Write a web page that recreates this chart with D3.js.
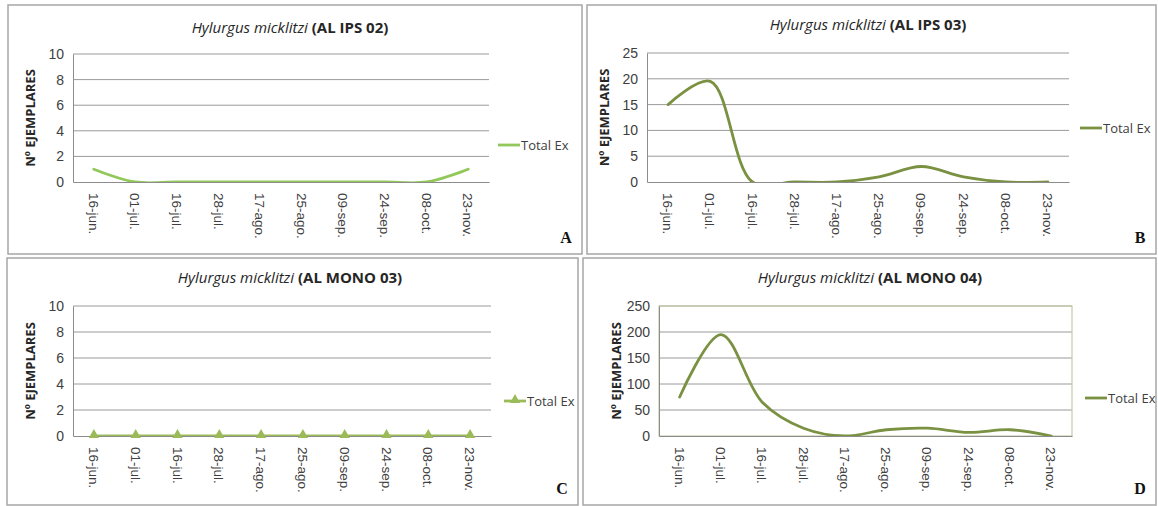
<!DOCTYPE html>
<html>
<head>
<meta charset="utf-8">
<script src="https://cdn.jsdelivr.net/npm/d3@7"></script>
<style>
  body { margin: 0; background: #fff; }
  svg { display: block; font-family: "Open Sans", "Liberation Sans", sans-serif; }
</style>
</head>
<body>
<svg id="chart" width="1158" height="506"></svg>
<script>
// Sampling dates (shared by all four panels)
const categories = ['16-jun.', '01-jul.', '16-jul.', '28-jul.', '17-ago.', '25-ago.', '09-sep.', '24-sep.', '08-oct.', '23-nov.'];

// Counts per trap
const valuesA = [1, 0, 0, 0, 0, 0, 0, 0, 0, 1];
const valuesB = [15, 19.5, 0, 0, 0, 1, 3, 1, 0, 0];
const valuesC = [0, 0, 0, 0, 0, 0, 0, 0, 0, 0];
const valuesD = [75, 195, 65, 15, 0, 12, 15, 7, 12, 0];

const ticksSmall = [0, 2, 4, 6, 8, 10];
const ticksB = [0, 5, 10, 15, 20, 25];
const ticksD = [0, 50, 100, 150, 200, 250];

const trapNames = ['AL IPS 02', 'AL IPS 03', 'AL MONO 03', 'AL MONO 04'];
const panelLetters = ['A', 'B', 'C', 'D'];
const seriesName = 'Total Ex';

// Layout of each panel (box, plot area, legend position)
const panels = [
  { box: [8, 5, 582, 254], plot: [73, 54, 489, 182], values: valuesA, ticks: ticksSmall,
    color: '#92c85a', marker: false, border: false, legend: [498, 145], title: [290, 28] },
  { box: [587, 5, 1156, 254], plot: [647, 53, 1069, 182], values: valuesB, ticks: ticksB,
    color: '#7a9142', marker: false, border: false, legend: [1080, 128], title: [868, 25] },
  { box: [7, 258, 578, 505], plot: [73, 306, 491, 436], values: valuesC, ticks: ticksSmall,
    color: '#9bbb59', marker: true, border: false, legend: [504, 401], title: [290, 278] },
  { box: [583, 258, 1156, 505], plot: [659, 306, 1072, 436], values: valuesD, ticks: ticksD,
    color: '#7a9142', marker: false, border: true, legend: [1085, 398], title: [870, 278] }
];

const svg = d3.select('#chart');

panels.forEach((p, i) => {
  const g = svg.append('g');
  const [bx0, by0, bx1, by1] = p.box;
  const [px0, py0, px1, py1] = p.plot;

  // Panel frame
  g.append('rect')
    .attr('x', bx0).attr('y', by0)
    .attr('width', bx1 - bx0).attr('height', by1 - by0)
    .attr('fill', '#fff')
    .attr('stroke', '#a6a6a6')
    .attr('stroke-width', 1.5);

  // Scales
  const x = d3.scaleBand().domain(categories).range([px0, px1]);
  const y = d3.scaleLinear().domain([0, d3.max(p.ticks)]).range([py1, py0]);

  // Gridlines
  g.append('g')
    .selectAll('line')
    .data(p.ticks.slice(1))
    .join('line')
      .attr('x1', px0).attr('x2', px1)
      .attr('y1', d => y(d)).attr('y2', d => y(d))
      .attr('stroke', '#9a9a9a')
      .attr('stroke-width', 1);

  // Plot area border (only in D)
  if (p.border) {
    g.append('rect')
      .attr('x', px0).attr('y', py0)
      .attr('width', px1 - px0).attr('height', py1 - py0)
      .attr('fill', 'none')
      .attr('stroke', '#c5caa6')
      .attr('stroke-width', 1.2);
  }

  // Y axis
  const yAxis = g.append('g')
    .attr('transform', `translate(${px0},0)`)
    .call(d3.axisLeft(y).tickValues(p.ticks).tickSize(0).tickPadding(9));
  yAxis.select('.domain').attr('stroke', '#8c8c8c');
  yAxis.selectAll('text')
    .attr('font-size', 14)
    .attr('fill', '#404040');

  // X axis with rotated labels
  const xAxis = g.append('g')
    .attr('transform', `translate(0,${py1})`)
    .call(d3.axisBottom(x).tickSize(0).tickPadding(0));
  xAxis.select('.domain').attr('stroke', '#8c8c8c');
  xAxis.selectAll('text')
    .attr('font-size', 13.5)
    .attr('fill', '#404040')
    .attr('text-anchor', 'start')
    .attr('dy', null)
    .attr('transform', 'translate(-5,11) rotate(90)')
    .attr('x', 0).attr('y', 0);

  // Line clipped to the plot area
  const clipId = 'clip' + i;
  g.append('clipPath').attr('id', clipId)
    .append('rect')
      .attr('x', px0 - 2).attr('y', py0 - 20)
      .attr('width', px1 - px0 + 4).attr('height', py1 - py0 + 20);

  const line = d3.line()
    .x((d, j) => x(categories[j]) + x.bandwidth() / 2)
    .y(d => y(d))
    .curve(d3.curveCatmullRom.alpha(0.5));

  g.append('path')
    .datum(p.values)
    .attr('clip-path', `url(#${clipId})`)
    .attr('d', line)
    .attr('fill', 'none')
    .attr('stroke', p.color)
    .attr('stroke-width', 2.8)
    .attr('stroke-linecap', 'round');

  // Triangle markers (panel C)
  const tri = d3.symbol().type(d3.symbolTriangle).size(45);
  if (p.marker) {
    g.append('g')
      .selectAll('path')
      .data(p.values)
      .join('path')
        .attr('d', tri)
        .attr('transform', (d, j) => `translate(${x(categories[j]) + x.bandwidth() / 2},${y(d) - 1})`)
        .attr('fill', p.color);
  }

  // Y axis title
  g.append('text')
    .attr('transform', `translate(${px0 - 38},${(py0 + py1) / 2}) rotate(-90)`)
    .attr('text-anchor', 'middle')
    .attr('font-size', 13)
    .attr('font-weight', 'bold')
    .attr('fill', '#262626')
    .text('Nº EJEMPLARES');

  // Title: italic species + bold trap code
  const title = g.append('text')
    .attr('x', p.title[0]).attr('y', p.title[1] + 5)
    .attr('text-anchor', 'middle')
    .attr('font-size', 15)
    .attr('fill', '#262626');
  title.append('tspan').attr('font-style', 'italic').text('Hylurgus micklitzi ');
  title.append('tspan').attr('font-weight', 'bold').text(`(${trapNames[i]})`);

  // Legend
  const [lx, ly] = p.legend;
  g.append('line')
    .attr('x1', lx).attr('x2', lx + 22)
    .attr('y1', ly).attr('y2', ly)
    .attr('stroke', p.color)
    .attr('stroke-width', 2.8);
  if (p.marker) {
    g.append('path')
      .attr('d', tri)
      .attr('transform', `translate(${lx + 11},${ly - 1})`)
      .attr('fill', p.color);
  }
  g.append('text')
    .attr('x', lx + 23).attr('y', ly + 4.5)
    .attr('font-size', 13)
    .attr('fill', '#404040')
    .text(seriesName);

  // Panel letter
  g.append('text')
    .attr('x', bx1 - 16).attr('y', by1 - 11)
    .attr('text-anchor', 'middle')
    .attr('font-family', '"Liberation Serif", serif')
    .attr('font-weight', 'bold')
    .attr('font-size', 16)
    .attr('fill', '#111')
    .text(panelLetters[i]);
});
</script>
</body>
</html>
